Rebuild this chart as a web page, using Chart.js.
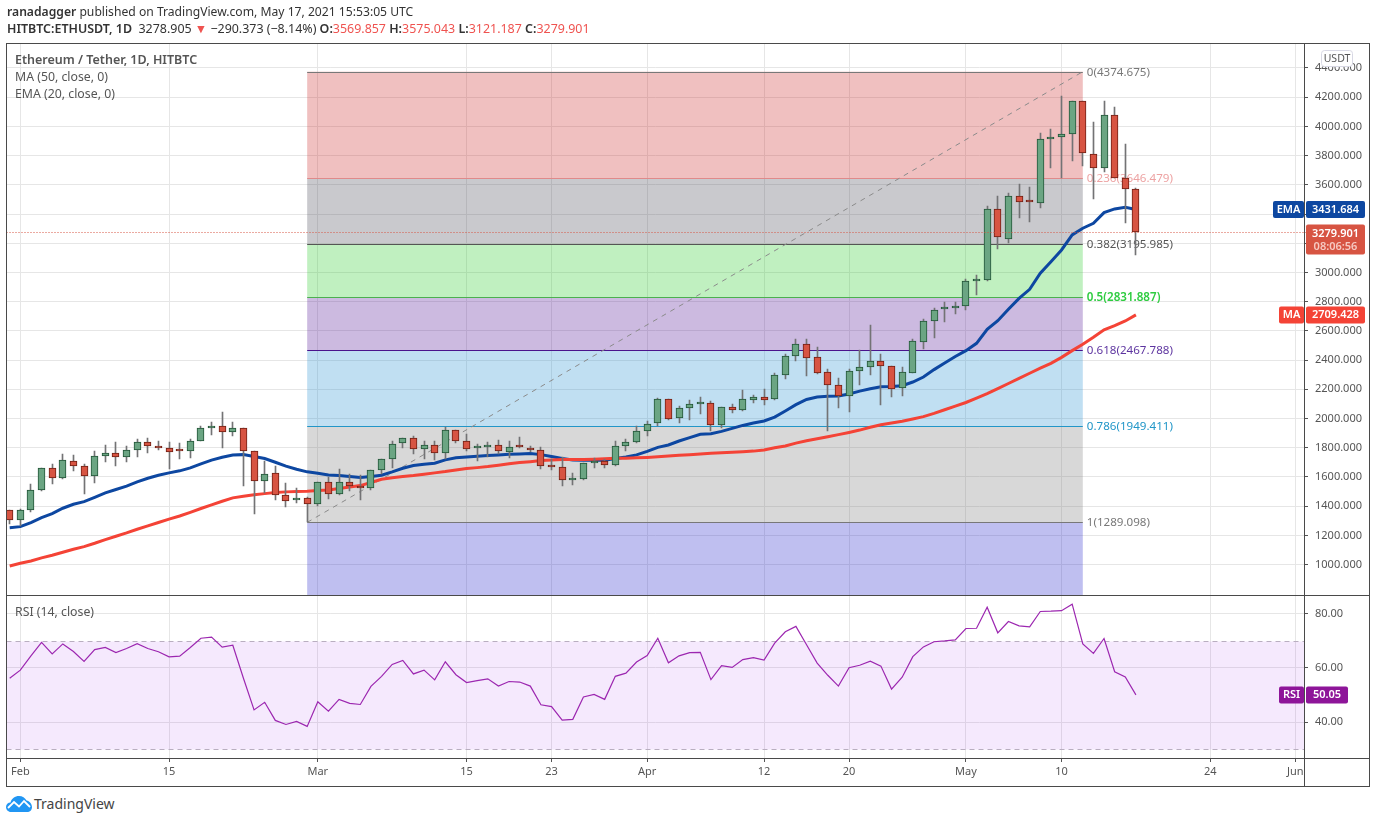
<!DOCTYPE html>
<html>
<head>
<meta charset="utf-8">
<title>ETHUSDT</title>
<script src="https://cdn.jsdelivr.net/npm/chart.js@4"></script>
<style>
    body { margin: 0; background: #fff; font-family: "Noto Sans", sans-serif; color: #333; overflow: hidden; }
    canvas { position: absolute; left: 0; }
    #mainChart { top: 0; }
    #rsiChart { top: 595px; }
    .txt { position: absolute; white-space: nowrap; font-size: 12.5px; line-height: 16px; }
    .txt b { font-weight: 600; }
    .red { color: #ef5350; }
    .leg { color: #555; font-size: 12.3px; }
    .rule { position: absolute; background: #4a4a4a; }
</style>
</head>
<body>
<canvas id="mainChart" width="1376" height="596"></canvas>
<canvas id="rsiChart" width="1376" height="191"></canvas>

<div class="txt" style="left:7px;top:4px;font-size:12.15px"><b>ranadagger</b> published on TradingView.com, May 17, 2021 15:53:05 UTC</div>
<div class="txt" style="left:7px;top:21px;font-size:12.45px"><b>HITBTC:ETHUSDT, 1D</b>&nbsp; 3278.905 <span class="red">▼</span> −290.373 (−8.14%) <b>O:</b><span class="red">3569.857</span> <b>H:</b><span class="red">3575.043</span> <b>L:</b><span class="red">3121.187</span> <b>C:</b><span class="red">3279.901</span></div>
<div class="txt leg" style="left:15px;top:52px;font-weight:600;font-size:12.5px">Ethereum / Tether, 1D, HITBTC</div>
<div class="txt leg" style="left:15px;top:69px">MA (50, close, 0)</div>
<div class="txt leg" style="left:15px;top:86px">EMA (20, close, 0)</div>
<div class="txt leg" style="left:15px;top:604px">RSI (14, close)</div>

<div class="rule" style="left:6px;top:43px;width:1364px;height:1px"></div>
<div class="rule" style="left:6px;top:595px;width:1364px;height:1px"></div>
<div class="rule" style="left:6px;top:758px;width:1364px;height:1px"></div>
<div class="rule" style="left:6px;top:786px;width:1364px;height:1px"></div>
<div class="rule" style="left:6px;top:43px;width:1px;height:744px"></div>
<div class="rule" style="left:1304px;top:43px;width:1px;height:744px"></div>
<div class="rule" style="left:1369px;top:43px;width:1px;height:744px"></div>

<svg style="position:absolute;left:6px;top:796px" width="26" height="16" viewBox="0 0 26 16">
    <path d="M5 16C2 16 0 13.5 0 11C0 8.5 2 6.5 4.5 6.5C5.5 2.5 9 0 13 0C16.5 0 19 2 20.5 4.5C23.5 5 26 8 26 11C26 14 24 16 21 16Z" fill="#2196f3"/>
    <polyline points="2,12 8,6 13,10.5 18,5 24,11" fill="none" stroke="#fff" stroke-width="1.8"/>
</svg>
<div class="txt" style="left:34px;top:796px;font-size:14px;color:#444">TradingView</div>

<script>
// Daily candles, Jan 31 to May 17. Day 0 is Feb 1
const firstDay = -1;
const opens = [1374,1308,1377,1514,1662,1596,1712,1678,1610,1747,1765,1740,1788,1840,1813,1799,1783,1781,1849,1938,1952,1911,1932,1779,1575,1628,1477,1445,1459,
    1418,1569,1484,1569,1541,1527,1651,1726,1836,1870,1792,1822,1765,1925,1849,1795,1806,1822,1774,1808,1801,1788,1676,1671,1580,1584,1696,1712,1683,1811,1838,
    1913,1967,2131,2001,2070,2102,2104,1958,2077,2061,2129,2145,2134,2296,2426,2508,2419,2316,2232,2157,2328,2355,2392,2362,2211,2314,2527,
    2666,2749,2755,2769,2944,2946,3433,3232,3522,3485,3478,3912,3926,3946,4172,3809,3713,4076,3645,3569.857];
const highs = [1374,1378,1550,1662,1692,1760,1749,1692,1776,1822,1838,1815,1863,1870,1849,1838,1831,1858,1952,1975,2043,1975,1932,1779,1708,1674,1557,1527,1466,
    1569,1603,1658,1623,1612,1651,1726,1845,1870,1879,1849,1845,1945,1925,1893,1824,1838,1852,1845,1872,1815,1808,1722,1740,1626,1699,1733,1726,1845,1858,1946,
    1983,2141,2131,2086,2127,2145,2120,2077,2097,2195,2161,2202,2312,2439,2544,2544,2490,2337,2275,2337,2467,2640,2442,2362,2353,2544,2681,
    2755,2796,2796,2953,2983,3455,3524,3547,3606,3586,3953,3983,4209,4172,4172,4031,4172,4131,3880,3575.043];
const lows = [1278,1265,1361,1505,1552,1587,1642,1484,1559,1703,1676,1703,1737,1765,1785,1655,1724,1730,1849,1888,1799,1881,1539,1347,1493,1443,1395,1422,1289,
    1402,1450,1475,1502,1441,1511,1619,1660,1797,1756,1724,1717,1721,1833,1779,1708,1740,1756,1728,1799,1772,1653,1646,1536,1543,1578,1660,1660,1676,1776,1832,
    1883,1947,1990,1972,1990,2031,1917,1937,2040,2054,2109,2093,2129,2271,2394,2293,2305,1917,2074,2047,2232,2298,2093,2150,2157,2314,2476,
    2554,2664,2716,2746,2846,2944,3161,3204,3373,3346,3442,3718,3645,3764,3729,3503,3690,3645,3339,3121.187];
const closes = [1308,1374,1511,1662,1596,1717,1678,1610,1744,1767,1740,1785,1840,1815,1799,1774,1780,1847,1936,1952,1911,1932,1781,1575,1623,1479,1438,1459,1418,
    1569,1484,1569,1539,1527,1651,1726,1829,1870,1792,1822,1765,1925,1849,1792,1799,1822,1779,1808,1804,1785,1676,1671,1580,1589,1699,1712,1683,1815,1842,1915,
    1960,2131,1999,2070,2097,2104,1958,2077,2061,2131,2145,2129,2296,2426,2508,2417,2314,2232,2157,2323,2350,2392,2362,2204,2316,2528,2665,
    2741,2753,2769,2940,2948,3433,3241,3522,3485,3483,3912,3926,3946,4172,3816,3713,4076,3645,3570,3279.901];

const ema20 = [1253,1260,1288,1322,1349,1386,1413,1431,1461,1491,1514,1537,1566,1591,1612,1628,1642,1662,1690,1715,1735,1751,1753,1740,1726,1701,1674,1653,1635,
    1626,1614,1610,1603,1596,1603,1612,1635,1660,1678,1687,1694,1717,1731,1737,1742,1747,1751,1756,1758,1760,1753,1740,1726,1717,1715,1715,1715,1726,1737,1751,
    1775,1803,1819,1846,1869,1892,1896,1912,1933,1953,1969,1983,2010,2052,2095,2131,2147,2152,2154,2168,2188,2204,2218,2220,2225,2250,2284,
    2335,2380,2425,2465,2515,2611,2670,2748,2823,2885,2995,3074,3154,3257,3303,3337,3410,3435,3446,3431.684];
const ma50 = [991,1009,1025,1046,1064,1085,1105,1123,1146,1171,1194,1217,1242,1265,1288,1311,1333,1358,1384,1409,1434,1457,1468,1479,1486,1493,1498,1500,1502,
    1507,1511,1521,1532,1541,1562,1584,1594,1603,1610,1619,1628,1637,1648,1658,1664,1671,1680,1690,1699,1705,1712,1717,1719,1719,1719,1721,1724,1728,1728,1731,
    1734,1738,1743,1748,1752,1757,1762,1765,1769,1773,1777,1785,1800,1812,1832,1848,1862,1876,1890,1905,1921,1940,1958,1969,1981,1997,2013,
    2035,2060,2085,2110,2140,2170,2205,2240,2275,2310,2345,2378,2419,2465,2508,2556,2607,2636,2668,2709.428];
const rsi14 = [56.2,59.2,64.5,69.5,65.2,68.9,66.1,62.4,66.8,67.6,65.7,67.2,69,67.2,66,64.1,64.4,67.6,71,71.4,67.7,68.4,56.2,44.5,47.3,40.6,39.1,40.2,38.4,
    47.5,44,48.4,46.9,46.5,53.2,56.9,61.3,62.8,57.8,59.2,55.6,62.3,57.5,54.6,55.3,56,53.3,55,54.8,53.3,46.4,45.7,40.7,41,49.3,50.2,48.4,56.9,58.1,62.2,
    64.6,71,61.9,64.5,65.7,65.8,55.7,60.9,60.2,63.1,63.8,62.9,69.2,73.4,75.4,68.6,61.8,57.3,53.3,60.1,61,62.5,60.7,52.2,56.6,64.2,67.8,
    69.7,70,70.4,74.6,74.7,82.5,73,77.2,75.6,75.2,80.9,81,81.2,83.6,68.9,65.4,70.9,58.6,56.7,50.05];

// Axes
const tickDays = [0, 14, 28, 42, 50, 59, 70, 78, 89, 98, 112, 120];
const tickLabels = ['Feb', '15', 'Mar', '15', '23', 'Apr', '12', '20', 'May', '10', '24', 'Jun'];
const priceTicks = [1000, 1200, 1400, 1600, 1800, 2000, 2200, 2400, 2600, 2800, 3000, 3200, 3400, 3600, 3800, 4000, 4200, 4400];
const rsiTicks = [40, 60, 80];
const xMin = -1.3, xMax = 120.82;

// Fibonacci retracement drawn from Feb 28 to May 12
const fibStartDay = 27, fibEndDay = 100;
const fibRatios = ['0', '0.236', '0.382', '0.5', '0.618', '0.786', '1'];
const fibPrices = [4374.675, 3646.479, 3195.985, 2831.887, 2467.788, 1949.411, 1289.098];
const fibFills = ['rgba(205,48,48,.3)', 'rgba(75,75,88,.3)', 'rgba(48,205,48,.3)', 'rgba(85,28,152,.3)', 'rgba(47,150,212,.3)', 'rgba(125,125,125,.3)', 'rgba(43,43,205,.3)'];
const fibLines = ['#787878', '#e08a8a', '#555555', '#4caf50', '#4a148c', '#2196c8', '#787878'];
const fibTexts = ['#787878', '#eda3a3', '#555555', '#2ecc40', '#5e35a0', '#2196c8', '#787878'];

const font = '"Noto Sans", sans-serif';
const labelColor = '#555';
const gridColor = '#e6e6e6';
const upFill = '#6ba583', upEdge = '#225437', downFill = '#d75442', downEdge = '#6f1f14';

function candle(values) {
    return values.map((v, k) => ({ x: k + firstDay, y: v }));
}

// keep bars on whole pixels so the candles stay sharp
const snapBars = {
    id: 'snapBars',
    afterDatasetsUpdate(chart) {
        chart.data.datasets.forEach((ds, n) => {
            if (ds.type !== 'bar') return;
            chart.getDatasetMeta(n).data.forEach(el => {
                el.x = Math.floor(el.x) + 0.5;
                el.y = Math.round(el.y);
                el.base = Math.round(el.base);
            });
        });
    }
};

function drawTag(ctx, x, y, w, h, color, text) {
    ctx.fillStyle = color;
    ctx.beginPath();
    ctx.roundRect(x, y, w, h, 2);
    ctx.fill();
    ctx.fillStyle = '#fff';
    ctx.font = '600 11px ' + font;
    ctx.textAlign = 'center';
    ctx.textBaseline = 'middle';
    ctx.fillText(text, x + w / 2, y + h / 2);
}

const fibPlugin = {
    id: 'fib',
    beforeDatasetsDraw(chart) {
        const { ctx, chartArea, scales: { x, y } } = chart;
        const left = x.getPixelForValue(fibStartDay), right = x.getPixelForValue(fibEndDay);
        ctx.save();
        fibPrices.forEach((price, i) => {
            const top = y.getPixelForValue(price);
            const bottom = i + 1 < fibPrices.length ? y.getPixelForValue(fibPrices[i + 1]) : chartArea.bottom;
            ctx.fillStyle = fibFills[i];
            ctx.fillRect(left, top, right - left, bottom - top);
        });
        fibPrices.forEach((price, i) => {
            const py = Math.round(y.getPixelForValue(price)) + 0.5;
            ctx.strokeStyle = fibLines[i];
            ctx.lineWidth = 1;
            ctx.beginPath();
            ctx.moveTo(left, py);
            ctx.lineTo(right, py);
            ctx.stroke();
            ctx.fillStyle = fibTexts[i];
            ctx.font = (fibRatios[i] === '0.5' ? '600 ' : '') + '11.6px ' + font;
            ctx.textAlign = 'left';
            ctx.textBaseline = 'middle';
            ctx.fillText(fibRatios[i] + '(' + price.toFixed(3) + ')', right + 4, py);
        });
        ctx.restore();
    }
};

const mainTags = {
    id: 'mainTags',
    afterDraw(chart) {
        const { ctx, chartArea, scales: { y } } = chart;
        const lastClose = closes[closes.length - 1];
        const closeY = Math.round(y.getPixelForValue(lastClose)) + 0.5;
        ctx.save();
        ctx.strokeStyle = downFill;
        ctx.setLineDash([1, 2]);
        ctx.beginPath();
        ctx.moveTo(chartArea.left, closeY);
        ctx.lineTo(chartArea.right + 4, closeY);
        ctx.stroke();
        ctx.setLineDash([]);

        const emaLast = ema20[ema20.length - 1], maLast = ma50[ma50.length - 1];
        const emaY = y.getPixelForValue(emaLast), maY = y.getPixelForValue(maLast);
        drawTag(ctx, 1273, emaY - 8.5, 31, 17, '#0d47a1', 'EMA');
        drawTag(ctx, 1306, emaY - 8.5, 59, 17, '#0d47a1', emaLast.toFixed(3));
        drawTag(ctx, 1279, maY - 8.5, 25, 17, '#f44336', 'MA');
        drawTag(ctx, 1306, maY - 8.5, 59, 17, '#f44336', maLast.toFixed(3));
        drawTag(ctx, 1306, closeY - 8, 59, 30, downFill, '');
        ctx.fillStyle = '#fff';
        ctx.font = '600 11px ' + font;
        ctx.fillText(lastClose.toFixed(3), 1335.5, closeY + 1);
        ctx.fillStyle = '#f6c9c2';
        ctx.fillText('08:06:56', 1335.5, closeY + 14);

        // currency button over the axis
        ctx.fillStyle = '#fff';
        ctx.strokeStyle = '#d8d8e4';
        ctx.beginPath();
        ctx.roundRect(1321.5, 50.5, 31, 16, 3);
        ctx.fill();
        ctx.stroke();
        ctx.fillStyle = labelColor;
        ctx.font = '10.5px ' + font;
        ctx.fillText('USDT', 1337, 59);
        ctx.restore();
    }
};

const rsiBand = {
    id: 'rsiBand',
    beforeDatasetsDraw(chart) {
        const { ctx, chartArea, scales: { y } } = chart;
        const top = Math.round(y.getPixelForValue(70)) + 0.5, bottom = Math.round(y.getPixelForValue(30)) + 0.5;
        ctx.save();
        ctx.fillStyle = 'rgba(156,39,232,.1)';
        ctx.fillRect(chartArea.left, top, chartArea.width, bottom - top);
        ctx.strokeStyle = '#b9aec0';
        ctx.setLineDash([5, 4]);
        [top, bottom].forEach(py => {
            ctx.beginPath();
            ctx.moveTo(chartArea.left, py);
            ctx.lineTo(chartArea.right, py);
            ctx.stroke();
        });
        ctx.restore();
    },
    afterDraw(chart) {
        const { ctx, scales: { y } } = chart;
        const last = rsi14[rsi14.length - 1];
        const py = y.getPixelForValue(last);
        ctx.save();
        drawTag(ctx, 1279, py - 8.5, 25, 17, '#8e1599', 'RSI');
        drawTag(ctx, 1306, py - 8.5, 42, 17, '#8e1599', last.toFixed(2));
        ctx.restore();
    }
};

function xScale(showLabels) {
    return {
        type: 'linear',
        min: xMin,
        max: xMax,
        offset: false,
        afterBuildTicks: s => { s.ticks = tickDays.map(v => ({ value: v })); },
        afterFit: s => { s.height = showLabels ? 28 : 0; },
        grid: { color: gridColor, offset: false, drawTicks: showLabels, tickLength: 4, tickColor: '#555' },
        border: { display: false },
        ticks: {
            display: showLabels,
            autoSkip: false,
            maxRotation: 0,
            padding: 3,
            color: labelColor,
            font: { family: font, size: 11 },
            callback: v => tickLabels[tickDays.indexOf(v)]
        }
    };
}

function yScale(min, max, values, digits) {
    return {
        position: 'right',
        min: min,
        max: max,
        afterBuildTicks: s => { s.ticks = values.map(v => ({ value: v })); },
        afterFit: s => { s.width = 66; s.paddingTop = 0; s.paddingBottom = 0; },
        grid: { color: gridColor, tickLength: 4, tickColor: '#555' },
        border: { display: false },
        ticks: {
            autoSkip: false,
            padding: 7,
            color: labelColor,
            font: { family: font, size: 11 },
            callback: v => v.toFixed(digits)
        }
    };
}

// Set up the price chart
new Chart(document.getElementById('mainChart').getContext('2d'), {
    type: 'bar',
    data: {
        datasets: [
            {
                type: 'bar',
                label: 'Body',
                order: 1,
                data: candle(opens.map((o, k) => [o, closes[k]])),
                barThickness: 7,
                minBarLength: 2,
                borderWidth: 1,
                borderSkipped: false,
                backgroundColor: opens.map((o, k) => closes[k] >= o ? upFill : downFill),
                borderColor: opens.map((o, k) => closes[k] >= o ? upEdge : downEdge)
            },
            {
                type: 'bar',
                label: 'Wick',
                order: 2,
                data: candle(lows.map((l, k) => [l, highs[k]])),
                barThickness: 1,
                backgroundColor: '#737375'
            },
            {
                type: 'line',
                label: 'MA',
                order: 3,
                data: candle(ma50),
                borderColor: '#f44336',
                borderWidth: 3,
                pointRadius: 0
            },
            {
                type: 'line',
                label: 'EMA',
                order: 4,
                data: candle(ema20),
                borderColor: '#0d47a1',
                borderWidth: 3,
                pointRadius: 0
            },
            {
                type: 'line',
                label: 'Trend',
                order: 5,
                data: [{ x: fibStartDay, y: fibPrices[6] }, { x: fibEndDay, y: fibPrices[0] }],
                borderColor: '#8a8a8a',
                borderWidth: 1,
                borderDash: [5, 5],
                pointRadius: 0
            }
        ]
    },
    options: {
        responsive: false,
        animation: false,
        datasets: { bar: { grouped: false } },
        layout: { padding: { left: 6.5, right: 6, top: 43, bottom: 1 } },
        plugins: { legend: { display: false }, tooltip: { enabled: false } },
        scales: {
            x: xScale(false),
            y: yScale(792, 4571, priceTicks, 3)
        }
    },
    plugins: [snapBars, fibPlugin, mainTags]
});

// Set up the RSI chart
new Chart(document.getElementById('rsiChart').getContext('2d'), {
    type: 'line',
    data: {
        datasets: [{
            label: 'RSI',
            data: candle(rsi14),
            borderColor: '#9c27b0',
            borderWidth: 1.2,
            pointRadius: 0
        }]
    },
    options: {
        responsive: false,
        animation: false,
        layout: { padding: { left: 6.5, right: 6, top: 0, bottom: 0 } },
        plugins: { legend: { display: false }, tooltip: { enabled: false } },
        scales: {
            x: xScale(true),
            y: yScale(26.7, 87, rsiTicks, 2)
        }
    },
    plugins: [rsiBand]
});
</script>
</body>
</html>
